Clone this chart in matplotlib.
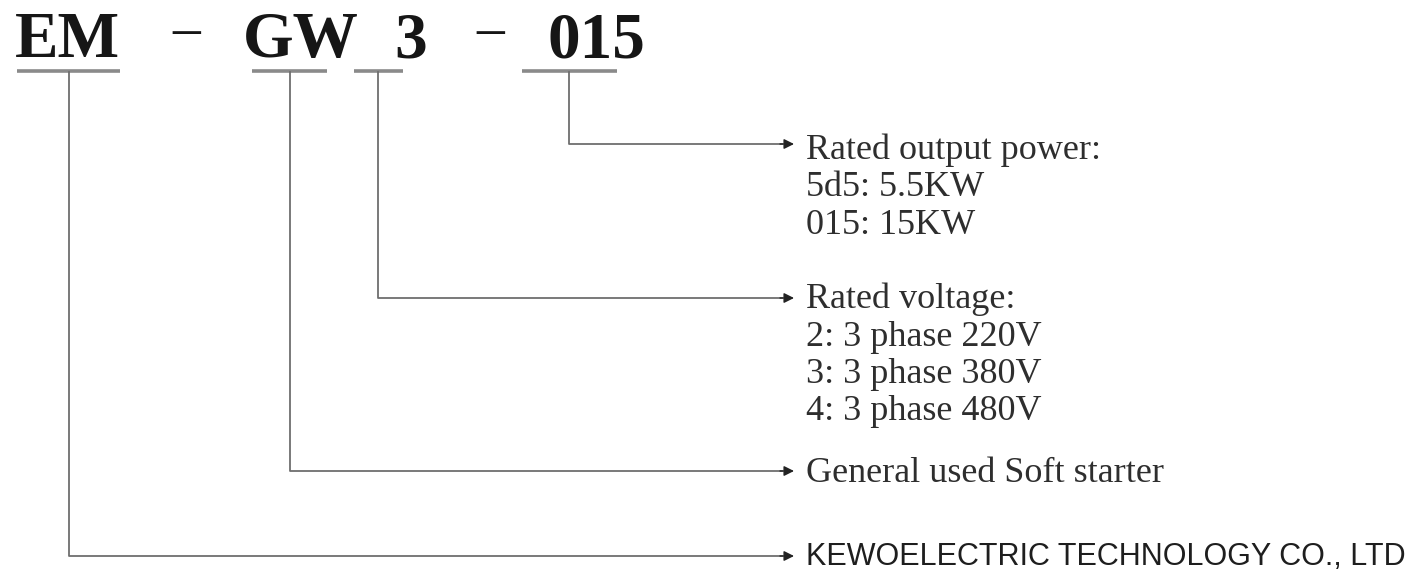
import matplotlib.pyplot as plt

# model code parts, left to right
segments = ["EM", "GW", "3", "015"]
separators = ["-", "-"]

# what each part means (same order as segments)
descriptions = [
    ["KEWOELECTRIC TECHNOLOGY CO., LTD"],
    ["General used Soft starter"],
    ["Rated voltage:", "2: 3 phase 220V", "3: 3 phase 380V", "4: 3 phase 480V"],
    ["Rated output power:", "5d5: 5.5KW", "015: 15KW"],
]

# layout in pixels (figure is 1412 x 575)
W, H = 1412, 575
seg_x = [15, 243, 394, 547]
sep_x = [186, 490]
code_base = 57
underlines = [(17, 120), (252, 327), (354, 403), (522, 617)]
under_y = 71
drop_x = [69, 290, 378, 569]
arrow_y = [556, 471, 298, 144]
first_base = [557, 482, 308, 159]
arrow_tip = 794
text_x = 806
line_gap = 37.5


def main():
    fig = plt.figure(figsize=(W / 100, H / 100), dpi=100)
    ax = fig.add_axes([0, 0, 1, 1])
    ax.set_xlim(0, W)
    ax.set_ylim(H, 0)
    ax.axis("off")

    for s, x in zip(segments, seg_x):
        ax.text(x, code_base, s, fontsize=47, fontweight="bold",
                family="Liberation Serif", color="#161616",
                ha="left", va="baseline")
    for s, x in zip(separators, sep_x):
        ax.text(x, 32, "\u2013", fontsize=40, family="Liberation Serif",
                color="#161616", ha="center", va="center")

    for (x0, x1) in underlines:
        ax.plot([x0, x1], [under_y, under_y], color="#8a8a8a", lw=2.6,
                solid_capstyle="butt")

    for i, (xv, ya) in enumerate(zip(drop_x, arrow_y)):
        ax.plot([xv, xv, arrow_tip - 12], [under_y + 1, ya, ya],
                color="#6e6e6e", lw=1.3)
        ax.annotate("", xy=(arrow_tip, ya), xytext=(arrow_tip - 14, ya),
                    arrowprops=dict(arrowstyle="-|>", color="#222222",
                                    lw=1.0, mutation_scale=15,
                                    shrinkA=0, shrinkB=0))
        lines = descriptions[i]
        for j, line in enumerate(lines):
            if i == 0:
                ax.text(text_x, first_base[i], line, fontsize=22,
                        family="Liberation Sans", color="#1e1e1e",
                        ha="left", va="center")
            else:
                ax.text(text_x, first_base[i] + j * line_gap, line,
                        fontsize=26, family="Liberation Serif",
                        color="#2e2e2e", ha="left", va="baseline")

    fig.savefig("out.png", dpi=100, facecolor="white")
    plt.close(fig)


if __name__ == "__main__":
    main()
